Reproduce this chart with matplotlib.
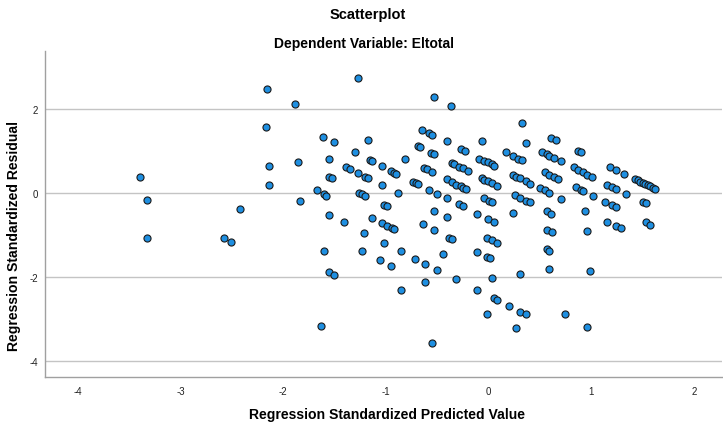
import numpy as np
import matplotlib.pyplot as plt

plt.rcParams["font.family"] = ["Liberation Sans", "DejaVu Sans"]
plt.rcParams["axes.unicode_minus"] = False

# standardized predicted value (x) and standardized residual (y)
pred = [
    -3.40, -3.33, -3.33, -2.58, -2.51, -2.42,
    -2.16, -2.17, -2.14, -2.14,
    -1.89, -1.86, -1.84,
    -1.67, -1.60, -1.58, -1.61, -1.51, -1.56, -1.56, -1.53, -1.56, -1.41,
    -1.60, -1.56, -1.51, -1.63,
    -1.275, -1.30, -1.18, -1.39, -1.35, -1.275, -1.20, -1.18, -1.16, -1.135,
    -1.26, -1.23, -1.20, -1.135, -1.21, -1.23,
    -1.04, -1.04, -0.95, -0.92, -0.90, -0.88, -1.02, -0.99, -1.04, -0.99,
    -0.94, -0.92, -1.02, -1.06, -0.95, -0.85, -0.85,
    -0.81, -0.69, -0.67, -0.65, -0.58, -0.55, -0.53, -0.365, -0.56, -0.53,
    -0.63, -0.60, -0.55, -0.74, -0.71, -0.69, -0.58, -0.505, -0.53, -0.64,
    -0.53, -0.72, -0.62, -0.505, -0.44, -0.62, -0.55,
    -0.41, -0.27, -0.23, -0.36, -0.34, -0.29, -0.245, -0.20, -0.41, -0.36,
    -0.32, -0.27, -0.245, -0.22, -0.41, -0.29, -0.245, -0.41, -0.39, -0.36, -0.32,
    -0.06, -0.09, -0.04, -0.01, 0.03, 0.05, -0.06, -0.04, -0.01, 0.03, 0.08,
    -0.04, 0.00, 0.03, -0.11, -0.01, 0.05, -0.02, 0.03, 0.08, -0.11, -0.02,
    0.01, 0.03, -0.11, 0.05, 0.08, -0.02,
    0.33, 0.36, 0.17, 0.24, 0.29, 0.33, 0.24, 0.27, 0.31, 0.36, 0.40,
    0.26, 0.31, 0.36, 0.40, 0.24, 0.31, 0.20, 0.31, 0.36, 0.27,
    0.52, 0.57, 0.59, 0.64, 0.61, 0.66, 0.71, 0.55, 0.59, 0.64, 0.68,
    0.50, 0.55, 0.59, 0.71, 0.57, 0.61, 0.57, 0.62, 0.57, 0.59, 0.59, 0.74,
    0.87, 0.90, 0.83, 0.87, 0.92, 0.96, 1.01, 0.85, 0.90, 0.92, 1.02,
    0.94, 0.96, 0.99, 0.96,
    1.18, 1.24, 1.32, 1.15, 1.20, 1.24, 1.34, 1.13, 1.20, 1.24, 1.15, 1.24, 1.29,
    1.43, 1.46, 1.48, 1.50, 1.52, 1.55, 1.57, 1.60, 1.62, 1.50, 1.53, 1.53, 1.57,
]
resid = [
    0.39, -0.15, -1.06, -1.07, -1.15, -0.37,
    2.48, 1.58, 0.65, 0.20,
    2.14, 0.75, -0.18,
    0.07, -0.02, -0.06, 1.34, 1.23, 0.83, 0.39, 0.36, -0.52, -0.69,
    -1.37, -1.87, -1.94, -3.15,
    2.75, 0.98, 1.28, 0.63, 0.58, 0.48, 0.40, 0.37, 0.80, 0.77,
    0.01, -0.02, -0.06, -0.59, -0.95, -1.37,
    0.66, 0.20, 0.53, 0.48, 0.47, 0.00, -0.27, -0.31, -0.71, -0.77,
    -0.82, -0.85, -1.18, -1.58, -1.72, -1.38, -2.29,
    0.82, 1.13, 1.10, 1.51, 1.44, 1.40, 2.29, 2.08, 0.96, 0.93,
    0.60, 0.58, 0.50, 0.28, 0.25, 0.23, 0.07, -0.01, -0.43, -0.74,
    -0.88, -1.56, -1.68, -1.82, -1.45, -2.12, -3.56,
    1.24, 1.07, 1.01, 0.72, 0.69, 0.64, 0.60, 0.53, 0.34, 0.28,
    0.21, 0.17, 0.13, 0.10, -0.12, -0.26, -0.31, -0.57, -1.05, -1.08, -2.04,
    1.26, 0.83, 0.77, 0.74, 0.69, 0.66, 0.36, 0.32, 0.29, 0.25, 0.18,
    -0.12, -0.18, -0.21, -0.49, -0.61, -0.69, -1.06, -1.12, -1.17, -1.40, -1.51,
    -1.54, -2.02, -2.29, -2.49, -2.53, -2.87,
    1.67, 1.19, 0.98, 0.88, 0.83, 0.79, 0.44, 0.40, 0.36, 0.29, 0.23,
    -0.04, -0.10, -0.17, -0.21, -0.47, -1.91, -2.68, -2.82, -2.88, -3.21,
    0.99, 0.93, 0.90, 0.85, 1.33, 1.28, 0.77, 0.51, 0.45, 0.40, 0.34,
    0.12, 0.07, 0.01, -0.14, -0.42, -0.49, -0.87, -0.93, -1.33, -1.36, -1.80, -2.88,
    1.02, 0.98, 0.63, 0.56, 0.51, 0.45, 0.40, 0.15, 0.09, 0.05, -0.06,
    -0.43, -0.90, -1.84, -3.17,
    0.64, 0.56, 0.47, 0.21, 0.15, 0.10, -0.01, -0.20, -0.28, -0.33, -0.68, -0.77, -0.82,
    0.34, 0.31, 0.28, 0.25, 0.23, 0.20, 0.17, 0.13, 0.10, -0.20, -0.23, -0.69, -0.75,
]

x_ticks = [-4, -3, -2, -1, 0, 1, 2]
y_ticks = [2, 0, -2, -4]

fig = plt.figure(figsize=(7.23, 4.27), dpi=100)
ax = fig.add_axes([0.0618, 0.114, 0.937, 0.764])

for y in y_ticks:
    ax.axhline(y, color="#c4c4c4", linewidth=1.0, zorder=1)

ax.scatter(pred, resid, s=26, color="#1e8fe1", edgecolors="#1a1a1a",
           linewidths=0.8, zorder=3)

ax.set_xlim(-4.326, 2.276)
ax.set_ylim(-4.38, 3.39)
ax.set_xticks(x_ticks)
ax.set_yticks(y_ticks)
ax.set_xticklabels([str(t) for t in x_ticks])
ax.set_yticklabels([str(t) for t in y_ticks])
ax.tick_params(length=0, labelsize=7, colors="#222222")
ax.tick_params(axis="x", pad=6)
ax.tick_params(axis="y", pad=5)

for side in ["top", "right"]:
    ax.spines[side].set_visible(False)
for side in ["left", "bottom"]:
    ax.spines[side].set_color("#a0a0a0")
    ax.spines[side].set_linewidth(1.0)

# axis titles placed like SPSS does (a bit off the axes centre)
fig.text(387 / 723, 1 - 415 / 427, "Regression Standardized Predicted Value",
         ha="center", va="center", fontsize=10.1, fontweight="bold")
fig.text(14 / 723, 1 - 236 / 427, "Regression Standardized Residual",
         ha="center", va="center", rotation=90, fontsize=10.1, fontweight="bold")

fig.text(368 / 723, 1 - 15 / 427, "Scatterplot", ha="center", va="center",
         fontsize=10.5, fontweight="bold")
fig.text(364 / 723, 1 - 44 / 427, "Dependent Variable: Eltotal", ha="center",
         va="center", fontsize=10, fontweight="bold")

fig.savefig("out.png", dpi=100)
